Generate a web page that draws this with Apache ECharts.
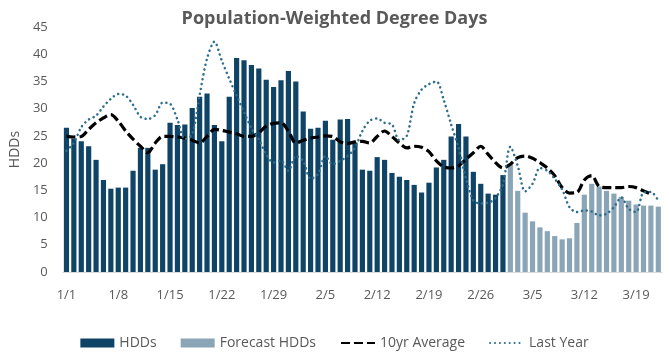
<!DOCTYPE html>
<html>
<head>
<meta charset="utf-8">
<script src="https://cdn.jsdelivr.net/npm/echarts@6/dist/echarts.min.js"></script>
<style>
html,body{margin:0;padding:0;background:#fff;}
#chart{width:669px;height:362px;}
</style>
</head>
<body>
<div id="chart"></div>
<script>
var categories = ["1/1","1/2","1/3","1/4","1/5","1/6","1/7","1/8","1/9","1/10","1/11","1/12","1/13","1/14","1/15","1/16","1/17","1/18","1/19","1/20","1/21","1/22","1/23","1/24","1/25","1/26","1/27","1/28","1/29","1/30","1/31",
"2/1","2/2","2/3","2/4","2/5","2/6","2/7","2/8","2/9","2/10","2/11","2/12","2/13","2/14","2/15","2/16","2/17","2/18","2/19","2/20","2/21","2/22","2/23","2/24","2/25","2/26","2/27","2/28",
"3/1","3/2","3/3","3/4","3/5","3/6","3/7","3/8","3/9","3/10","3/11","3/12","3/13","3/14","3/15","3/16","3/17","3/18","3/19","3/20","3/21","3/22"];

var hdds = [26.5,24.5,24.0,23.1,20.6,16.9,15.3,15.5,15.5,18.6,22.8,22.8,18.8,19.8,27.4,27.0,27.1,30.1,32.2,32.8,27.0,24.0,32.2,39.3,38.9,38.0,37.4,35.3,34.0,35.2,36.9,35.0,29.5,26.3,26.5,27.8,24.3,28.0,28.1,23.8,18.8,18.6,21.1,20.6,18.2,17.5,16.9,16.0,14.6,16.4,19.2,20.6,24.9,27.2,24.9,18.4,16.2,14.4,14.2,17.8,
null,null,null,null,null,null,null,null,null,null,null,null,null,null,null,null,null,null,null,null,null];

var forecastHdds = [null,null,null,null,null,null,null,null,null,null,null,null,null,null,null,null,null,null,null,null,null,null,null,null,null,null,null,null,null,null,null,null,null,null,null,null,null,null,null,null,null,null,null,null,null,null,null,null,null,null,null,null,null,null,null,null,null,null,null,null,
19.8,14.9,10.9,9.3,8.2,7.5,6.6,6.0,6.2,9.0,14.2,16.2,15.7,14.9,14.4,13.8,13.1,12.4,12.2,12.2,12.0];

var tenYrAverage = [24.9,24.8,24.9,26.2,27.4,28.3,28.9,27.7,25.9,24.4,23.1,21.9,23.7,24.9,24.9,24.8,24.6,24.2,23.7,24.9,26.2,26.0,25.7,25.4,24.9,24.9,25.6,26.8,27.3,27.4,25.9,23.7,24.2,24.6,24.8,25.0,24.9,23.9,23.6,23.9,24.0,23.7,24.9,25.9,24.9,23.7,22.8,23.1,22.9,22.1,20.4,19.3,19.1,19.5,20.7,21.9,23.1,21.6,20.1,19.1,19.8,21.0,21.3,20.9,20.1,19.1,17.7,15.5,14.5,14.6,16.9,17.7,15.7,15.5,15.5,15.5,15.7,15.5,14.9,14.3,null];

var lastYear = [22.3,23.7,26.6,28.0,28.7,30.4,31.8,32.7,32.4,30.7,28.5,28.1,28.8,31.1,30.9,28.0,24.4,25.3,32.5,39.2,42.3,38.8,35.5,32.4,29.4,26.4,24.4,21.6,20.1,20.5,18.6,21.3,20.4,17.1,18.0,21.3,19.8,20.4,21.3,22.8,25.9,27.8,28.2,27.4,27.1,24.2,25.0,31.0,33.5,34.5,35.0,31.6,27.1,22.8,17.2,13.1,12.6,12.7,13.6,16.1,23.0,19.5,14.8,16.2,19.1,18.6,17.1,15.2,11.9,11.0,11.3,11.1,10.4,10.7,11.9,13.7,11.6,11.0,14.6,14.7,13.1];

var yTicks = {min: 0, max: 45, interval: 5};

var FONT = '"Open Sans", "Noto Sans", sans-serif';
var hiddenSymbol = {color: 'rgba(0,0,0,0)', borderWidth: 0, opacity: 0};
var chart = echarts.init(document.getElementById('chart'), null, {renderer: 'canvas'});
chart.setOption({
  animation: false,
  backgroundColor: '#ffffff',
  title: {
    text: 'Population-Weighted Degree Days',
    left: 'center',
    top: 5,
    textStyle: {fontFamily: FONT, fontSize: 18, fontWeight: 'bold', color: '#595959'}
  },
  legend: {
    bottom: 7,
    left: 'center',
    itemWidth: 34,
    itemHeight: 9,
    itemGap: 24,
    textStyle: {fontFamily: FONT, fontSize: 14, color: '#595959'},
    data: [
      {name: 'HDDs', icon: 'rect'},
      {name: 'Forecast HDDs', icon: 'rect'},
      {name: '10yr Average', itemStyle: hiddenSymbol},
      {name: 'Last Year', itemStyle: hiddenSymbol}
    ]
  },
  grid: {left: 59, right: 7, top: 27, bottom: 90, containLabel: false},
  xAxis: {
    type: 'category',
    data: categories,
    boundaryGap: true,
    axisLine: {lineStyle: {color: '#D9D9D9', width: 1}},
    axisTick: {show: false},
    axisLabel: {interval: 6, margin: 17, fontFamily: FONT, fontSize: 13, color: '#595959'}
  },
  yAxis: {
    type: 'value',
    min: yTicks.min, max: yTicks.max, interval: yTicks.interval,
    name: 'HDDs',
    nameLocation: 'middle',
    nameGap: 38,
    nameTextStyle: {fontFamily: FONT, fontSize: 14, color: '#595959'},
    axisLine: {show: false},
    axisTick: {show: false},
    splitLine: {show: false},
    axisLabel: {margin: 15, fontFamily: FONT, fontSize: 13, color: '#595959'}
  },
  series: [
    {
      name: 'HDDs', type: 'bar', data: hdds,
      barCategoryGap: '30%', barGap: '-100%',
      itemStyle: {color: '#0F4467'}
    },
    {
      name: 'Forecast HDDs', type: 'bar', data: forecastHdds,
      barCategoryGap: '30%', barGap: '-100%',
      itemStyle: {color: '#8AA5B6'}
    },
    {
      name: '10yr Average', type: 'line', data: tenYrAverage,
      smooth: 0.3, symbol: 'none', showSymbol: false,
      lineStyle: {color: '#000000', width: 3.2, type: [9, 4]},
      itemStyle: {color: '#000000'}
    },
    {
      name: 'Last Year', type: 'line', data: lastYear,
      smooth: 0.3, symbol: 'none', showSymbol: false,
      lineStyle: {color: '#2E6D8E', width: 2.5, type: [0.1, 4.8], cap: 'round'},
      itemStyle: {color: '#2E6D8E'}
    }
  ]
});
</script>
</body>
</html>
